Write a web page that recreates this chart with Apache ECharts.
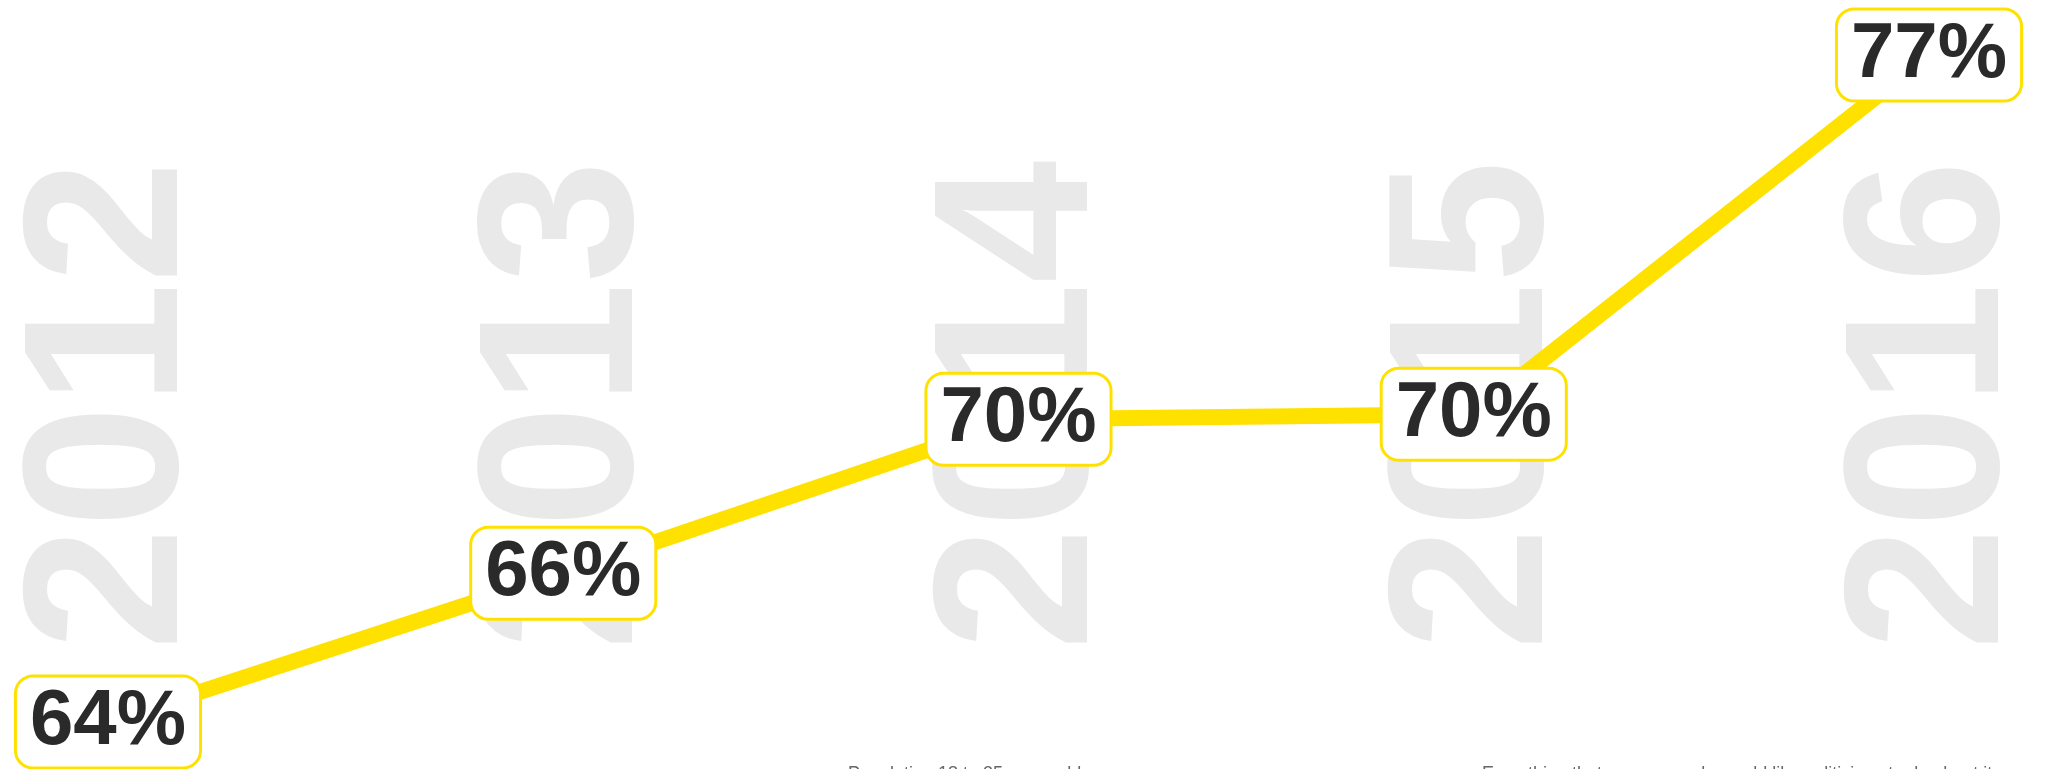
<!DOCTYPE html>
<html>
<head>
<meta charset="utf-8">
<title>Share by year</title>
<script src="https://cdn.jsdelivr.net/npm/echarts@6/dist/echarts.min.js"></script>
<style>
  html, body { margin: 0; padding: 0; background: #fff; }
  #chart { width: 2047px; height: 769px; }
</style>
</head>
<body>
<div id="chart"></div>
<script>
var years = ['2012', '2013', '2014', '2015', '2016'];
// plotted positions, labels as printed
var shares = [64.0, 66.9, 69.9, 70.0, 77.0];
var shareLabels = ['64%', '66%', '70%', '70%', '77%'];
var notes = ['Population 18 to 35 years old', 'Everything that young people would like politicians to do about it now'];

var yellow = '#ffe100';

var option = {
    backgroundColor: '#fff',
    animation: false,
    grid: { left: 108, right: 115, top: 55, bottom: 47 },
    xAxis: {
        type: 'category',
        boundaryGap: false,
        data: years,
        axisLine: { show: false },
        axisTick: { show: false },
        axisLabel: {
            inside: true,
            rotate: 90,
            interval: 0,
            margin: 72,
            formatter: '{y|{value}}',
            rich: {
                y: {
                    padding: [16, 0, 0, 0],
                    color: '#e8e9e8',
                    fontFamily: 'Liberation Sans',
                    fontWeight: 'bold',
                    fontSize: 220
                }
            }
        }
    },
    yAxis: {
        type: 'value',
        min: 64,
        max: 77,
        show: false,
        splitLine: { show: false }
    },
    series: [{
        type: 'line',
        data: shares,
        symbol: 'circle',
        symbolSize: 1,
        itemStyle: { color: yellow },
        lineStyle: { color: yellow, width: 16 },
        label: {
            show: true,
            position: 'inside',
            formatter: function (p) { return shareLabels[p.dataIndex]; },
            backgroundColor: '#fff',
            borderColor: yellow,
            borderWidth: 3,
            borderRadius: 16,
            padding: [7, 13, 4, 13],
            color: '#2a2a2a',
            fontFamily: 'Liberation Sans',
            fontWeight: 'bold',
            fontSize: 78,
            lineHeight: 78
        }
    }],
    graphic: [{
        type: 'text',
        left: 848,
        top: 765,
        style: { text: notes[0], fill: '#666', font: '18px "Liberation Sans"' }
    }, {
        type: 'text',
        left: 1482,
        top: 765,
        style: { text: notes[1], fill: '#666', font: '18px "Liberation Sans"' }
    }]
};

var myChart = echarts.init(document.getElementById('chart'));
myChart.setOption(option);
</script>
</body>
</html>
